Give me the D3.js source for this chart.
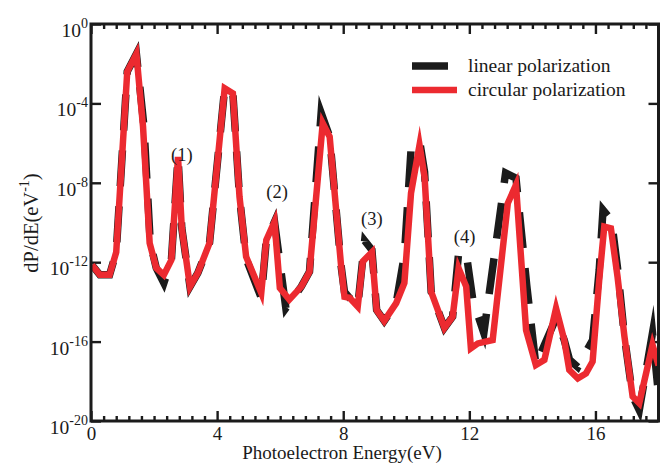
<!DOCTYPE html>
<html><head><meta charset="utf-8">
<script src="https://cdn.jsdelivr.net/npm/d3@7/dist/d3.min.js"></script>
<style>
body{margin:0;background:#fff}
svg{display:block}
text{font-family:"Liberation Serif","Times New Roman",serif;fill:#1a1a1a}
</style>
</head><body>
<svg id="chart" width="660" height="464"></svg>
<script>
// ---- data ----
const energyLinear = [0.03,0.28,0.59,0.80,1.15,1.44,1.68,1.88,2.07,2.31,2.55,2.76,2.88,3.14,3.39,3.76,4.24,4.50,4.71,4.92,5.40,5.56,5.82,6.18,6.67,6.93,7.30,7.57,7.93,8.04,8.20,8.46,8.68,8.91,9.06,9.30,9.68,9.94,10.15,10.42,10.58,10.79,11.21,11.47,11.66,11.90,12.11,12.46,13.15,13.48,13.82,14.11,14.38,14.75,15.01,15.18,15.44,15.70,15.91,16.12,16.24,16.51,16.70,16.92,17.18,17.39,17.81,17.97];
const dpdeLinear = [7.2e-13,2.3e-13,2.3e-13,3.2e-12,4.0e-3,3.1e-2,6.8e-6,9.3e-12,5.1e-13,8.9e-14,1.3e-12,2.0e-7,5.2e-11,5.9e-14,2.9e-13,9.3e-12,5.8e-4,3.2e-4,2.0e-9,1.5e-12,1.6e-14,1.3e-11,1.1e-10,4.9e-15,5.9e-14,3.3e-13,3.3e-5,2.1e-6,7.2e-13,3.2e-14,1.6e-14,5.8e-15,1.2e-11,4.1e-12,3.9e-15,1.1e-15,8.7e-15,2.3e-12,4.5e-7,1.4e-6,3.5e-8,3.2e-14,4.9e-16,1.8e-15,2.9e-12,2.9e-12,1.3e-14,2.7e-16,3.1e-8,1.7e-8,7.1e-14,6.6e-18,6.8e-17,1.5e-15,1.2e-16,1.2e-17,5.2e-18,3.0e-17,1.2e-16,4.1e-13,4.3e-10,1.3e-10,5.1e-13,1.8e-16,1.7e-19,3.5e-20,2.7e-16,6.5e-19];

const energyCircular = [0.03,0.28,0.59,0.80,1.15,1.44,1.65,1.86,2.07,2.31,2.55,2.76,2.88,3.14,3.39,3.76,4.24,4.50,4.71,4.92,5.40,5.56,5.82,5.99,6.29,6.67,6.93,7.35,7.57,7.93,8.04,8.20,8.46,8.62,8.91,9.06,9.30,9.68,9.94,10.15,10.42,10.58,10.79,11.21,11.47,11.66,11.90,12.05,12.27,12.74,13.22,13.48,13.80,14.11,14.38,14.75,15.01,15.17,15.44,15.70,15.91,16.12,16.28,16.49,16.70,16.92,17.18,17.39,17.81,18.0];
const dpdeCircular = [7.2e-13,2.3e-13,2.3e-13,3.2e-12,4.0e-3,3.1e-2,6.8e-6,9.3e-12,5.1e-13,2.3e-13,1.3e-12,2.0e-7,5.2e-11,5.9e-14,2.9e-13,9.3e-12,5.8e-4,3.2e-4,2.0e-9,1.9e-12,2.8e-14,1.3e-11,1.1e-10,5.0e-14,1.3e-14,5.9e-14,3.3e-13,1.0e-5,2.1e-6,7.2e-13,1.8e-14,1.6e-14,5.8e-15,1.1e-12,3.2e-12,3.9e-15,1.1e-15,8.7e-15,8.9e-14,3.0e-9,7.9e-7,2.0e-8,3.2e-14,4.9e-16,1.8e-15,4.9e-13,5.9e-14,4.6e-17,8.1e-17,1.2e-16,9.3e-10,7.8e-9,3.8e-16,6.6e-18,1.2e-17,4.8e-15,1.2e-16,3.7e-18,1.4e-18,2.5e-18,9.8e-18,1.3e-13,6.2e-11,5.1e-11,1.9e-13,1.8e-16,1.7e-19,7.8e-20,6.8e-17,6.3e-18];

const xMajorTicks = [0,4,8,12,16];
const xMinorStep = 0.4;
const yTickExponents = [0,-4,-8,-12,-16,-20];
const seriesNames = ["linear polarization","circular polarization"];
const peakLabels = ["(1)","(2)","(3)","(4)"];
const peakLabelEnergy = [2.88,5.90,8.91,11.85];
const peakLabelValue = [1.3e-7,1.7e-9,7.5e-11,9.3e-12];

// ---- layout ----
const L = 91, R = 658.5, T = 24, B = 421;
const RED = "#ec2a30", BLACK = "#1b1b1b";

const svg = d3.select("#chart");
const x = d3.scaleLinear().domain([0,18]).range([L,R]);
const y = d3.scaleLog().domain([1e-20,1]).range([B,T]);

const minorVals = d3.range(0, 18 + 1e-9, xMinorStep).filter(v => Math.abs(v/4 - Math.round(v/4)) > 1e-6);
const yVals = yTickExponents.map(e => Math.pow(10, e));

function styleAxis(g){
  g.select(".domain").remove();
  g.selectAll(".tick line").attr("stroke", BLACK).attr("stroke-width", 2.4);
}

// bottom axis
svg.append("g").attr("transform",`translate(0,${B})`)
  .call(d3.axisBottom(x).tickValues(minorVals).tickSize(-5).tickFormat(""))
  .call(styleAxis);
const gxb = svg.append("g").attr("transform",`translate(0,${B})`)
  .call(d3.axisBottom(x).tickValues(xMajorTicks).tickSize(-10).tickPadding(5.5).tickFormat(d3.format("d")))
  .call(styleAxis);
gxb.selectAll("text").attr("font-size", 19).attr("fill", BLACK)
  .style("font-family", '"Liberation Serif",serif');

// top axis
svg.append("g").attr("transform",`translate(0,${T})`)
  .call(d3.axisTop(x).tickValues(minorVals).tickSize(-5).tickFormat(""))
  .call(styleAxis);
svg.append("g").attr("transform",`translate(0,${T})`)
  .call(d3.axisTop(x).tickValues(xMajorTicks).tickSize(-10).tickFormat(""))
  .call(styleAxis);

// left axis
const gyl = svg.append("g").attr("transform",`translate(${L},0)`)
  .call(d3.axisLeft(y).tickValues(yVals).tickSize(-10).tickFormat(""))
  .call(styleAxis);
gyl.selectAll(".tick").each(function(d){
  const e = Math.round(Math.log10(d));
  const t = d3.select(this).select("text")
    .attr("x", -3).attr("dy", null).attr("y", 12.5)
    .attr("text-anchor","end").attr("font-size", 19.5).attr("fill", BLACK)
    .style("font-family", '"Liberation Serif",serif');
  t.text(null);
  t.append("tspan").text("10");
  t.append("tspan").attr("font-size", 14).attr("dy", -9).text(String(e));
});

// right axis
svg.append("g").attr("transform",`translate(${R},0)`)
  .call(d3.axisRight(y).tickValues(yVals).tickSize(-10).tickFormat(""))
  .call(styleAxis);

// clip
svg.append("clipPath").attr("id","plotclip").append("rect")
  .attr("x", L).attr("y", T).attr("width", R-L).attr("height", B-T);

const line = d3.line().x(d => x(d[0])).y(d => y(d[1]));
const linData = energyLinear.map((e,i) => [e, dpdeLinear[i]]);
const cirData = energyCircular.map((e,i) => [e, dpdeCircular[i]]);

const plot = svg.append("g").attr("clip-path","url(#plotclip)");
plot.append("path").datum(linData).attr("d", line)
  .attr("fill","none").attr("stroke", BLACK).attr("stroke-width", 7.5)
  .attr("stroke-dasharray","36,20").attr("stroke-miterlimit", 8);
plot.append("path").datum(cirData).attr("d", line)
  .attr("fill","none").attr("stroke", RED).attr("stroke-width", 6.5)
  .attr("stroke-miterlimit", 8);

// frame
svg.append("rect").attr("x", L).attr("y", T).attr("width", R-L).attr("height", B-T)
  .attr("fill","none").attr("stroke", BLACK).attr("stroke-width", 3);

// peak annotations
peakLabels.forEach((s,i) => {
  svg.append("text").attr("x", x(peakLabelEnergy[i])).attr("y", y(peakLabelValue[i]))
    .attr("text-anchor","middle").attr("font-size", 18.5).text(s);
});

// legend
const legY = [66, 90];
svg.append("line").attr("x1",412).attr("x2",457).attr("y1",legY[0]).attr("y2",legY[0])
  .attr("stroke", BLACK).attr("stroke-width", 7.5).attr("stroke-dasharray","36,20");
svg.append("line").attr("x1",412).attr("x2",457).attr("y1",legY[1]).attr("y2",legY[1])
  .attr("stroke", RED).attr("stroke-width", 6.5);
seriesNames.forEach((s,i) => {
  svg.append("text").attr("x", 468).attr("y", legY[i] + 5.5).attr("font-size", 19.5).text(s);
});

// axis titles
svg.append("text").attr("x", 342).attr("y", 459).attr("text-anchor","middle")
  .attr("font-size", 19).text("Photoelectron Energy(eV)");
const yt = svg.append("text").attr("transform", "translate(38,223) rotate(-90)")
  .attr("text-anchor","middle").attr("font-size", 20.5);
yt.append("tspan").text("dP/dE(eV");
yt.append("tspan").attr("font-size", 14).attr("dy", -9).text("-1");
yt.append("tspan").attr("dy", 9).text(")");
</script>
</body></html>
